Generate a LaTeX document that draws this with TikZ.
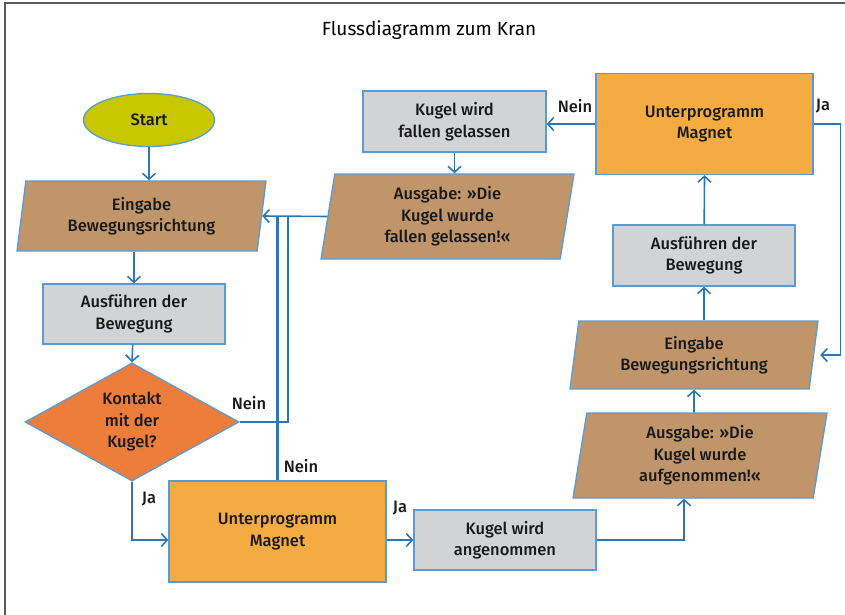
\documentclass[tikz,border=0pt]{standalone}
\usepackage{fontspec}
\setmainfont{Fira Sans}[BoldFont={* Medium}]
\usetikzlibrary{arrows.meta,shapes.geometric}

\definecolor{linie}{HTML}{2E75B6}
\definecolor{rand}{HTML}{5B9BD5}
\definecolor{startgelb}{HTML}{C8C800}
\definecolor{braun}{HTML}{BF9569}
\definecolor{grau}{HTML}{D2D3D5}
\definecolor{raute}{HTML}{ED7D3B}
\definecolor{magnet}{HTML}{F4AB42}

\begin{document}
\begin{tikzpicture}[x=1pt,y=-1pt]
  \tikzstyle{Box}=[draw=rand, line width=1.3pt, align=center, inner sep=0pt,
                   text=black!90, font=\fontsize{16.5}{21.5}\selectfont\bfseries]
  \tikzstyle{Aktion}=[Box, rectangle, fill=grau, minimum width=182pt, minimum height=60pt]
  \tikzstyle{Unterprog}=[Box, rectangle, fill=magnet, minimum width=217pt, minimum height=101pt]
  \tikzstyle{EinAus}=[Box, trapezium, trapezium left angle=77, trapezium right angle=103,
                      trapezium stretches body, fill=braun]
  \tikzstyle{Pfeil}=[draw=linie, line width=1.6pt, -{Straight Barb[length=6pt,width=13pt]}]
  \tikzstyle{Linie}=[draw=linie, line width=1.6pt]
  \tikzstyle{Marke}=[font=\fontsize{16.5}{21}\selectfont\bfseries, text=black!90]

  \useasboundingbox (0,0) rectangle (845,615);
  \draw[black!65, line width=1.5pt] (5,615) |- (845,3);
  \node (titel) at (429,30) {\fontsize{19}{22}\selectfont Flussdiagramm zum Kran};

  % linke Spalte
  \node[Box, ellipse, fill=startgelb, minimum width=131pt, minimum height=53pt] (start) at (149,120) {Start};
  \node[EinAus, minimum width=249pt, minimum height=70pt] (eingabeL) at (141.5,216) {Eingabe\\Bewegungsrichtung};
  \node[Aktion] (ausfuehrenL) at (134,314) {Ausführen der\\Bewegung};
  \node[Box, diamond, fill=raute, minimum width=214pt, minimum height=113pt] (kontakt) at (132,422) {Kontakt\\mit der\\Kugel?};
  \node[Unterprog] (magnetU) at (277.5,531.5) {Unterprogramm\\Magnet};
  \node[Aktion] (angenommen) at (505,540) {Kugel wird\\angenommen};

  % mittlere Spalte
  \node[Aktion, minimum width=183pt, minimum height=61pt] (fallen) at (454.5,121.5) {Kugel wird\\fallen gelassen};
  \node[EinAus, minimum width=253pt, minimum height=85pt] (ausgabeL) at (447.5,216.5) {Ausgabe: »Die\\Kugel wurde\\fallen gelassen!«};

  % rechte Spalte
  \node[Unterprog] (magnetO) at (704.5,124) {Unterprogramm\\Magnet};
  \node[Aktion, minimum height=61pt] (ausfuehrenR) at (704,255.5) {Ausführen der\\Bewegung};
  \node[EinAus, minimum width=248pt, minimum height=68pt] (eingabeR) at (694,355) {Eingabe\\Bewegungsrichtung};
  \node[EinAus, minimum width=254pt, minimum height=85pt] (ausgabeR) at (700,455.5) {Ausgabe: »Die\\Kugel wurde\\aufgenommen!«};

  \coordinate (knick) at (288,216);

  \draw[Pfeil] (start) -- (start |- eingabeL.north);
  \draw[Pfeil] (eingabeL.south -| ausfuehrenL) -- (ausfuehrenL.north);
  \draw[Pfeil] (ausfuehrenL) -- (kontakt.north);
  \draw[Pfeil] (kontakt.south) |- (magnetU.west |- angenommen.west);
  \draw[Linie] (kontakt.east) -| (knick);
  \draw[Pfeil] (ausgabeL.west) -- (eingabeL.east);
  \draw[Linie, line width=2.5pt] (magnetU.north) -- (magnetU.north |- eingabeL.east);
  \draw[Pfeil] (magnetU.east |- angenommen.west) -- (angenommen.west);
  \draw[Pfeil] (angenommen.east) -| ([xshift=-16pt]ausgabeR.south);
  \draw[Pfeil] (ausgabeR.north -| eingabeR) -- (eingabeR.south);
  \draw[Pfeil] (ausfuehrenR.south |- eingabeR.north) -- (ausfuehrenR.south);
  \draw[Pfeil] (ausfuehrenR) -- (magnetO.south);
  \draw[Pfeil] (magnetO.west) -- (magnetO.west -| fallen.east);
  \draw[Pfeil] (magnetO.east) -- ++(27,0) |- ([xshift=6pt]eingabeR.east);
  \draw[Pfeil] (fallen.south) -- (fallen.south |- ausgabeL.north);

  \node[Marke] (neinK) at (249,403) {Nein};
  \node[Marke] (neinU) at (301,466) {Nein};
  \node[Marke] (jaK) at (149,499) {Ja};
  \node[Marke] (jaU) at (400,508) {Ja};
  \node[Marke] (neinO) at (575,106) {Nein};
  \node[Marke] (jaO) at (823,106) {Ja};
\end{tikzpicture}
\end{document}
